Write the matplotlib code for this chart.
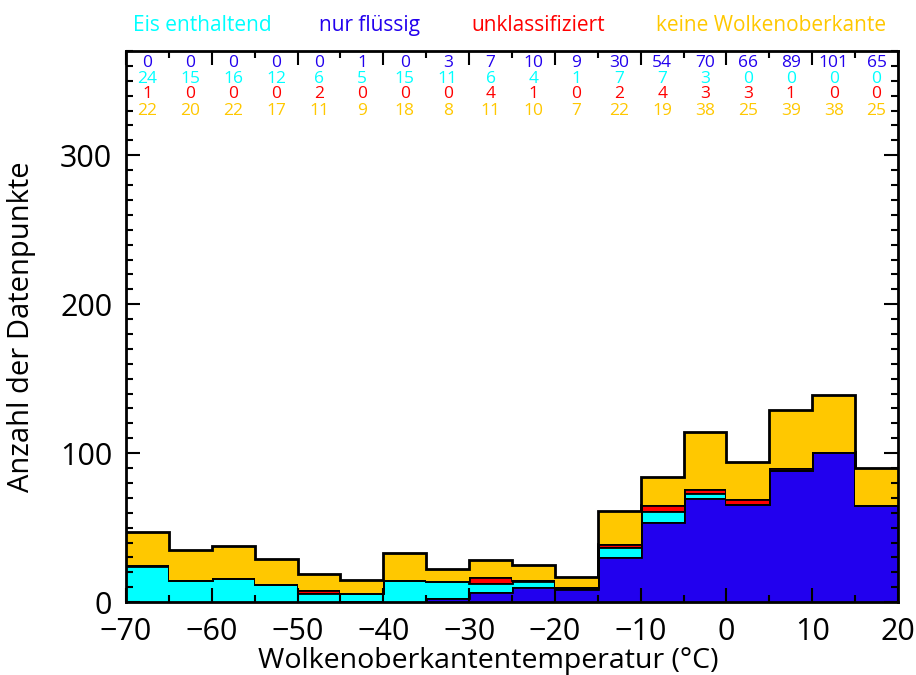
import numpy as np
import matplotlib.pyplot as plt
from matplotlib.ticker import MultipleLocator

plt.rcParams['font.family'] = ['Open Sans', 'DejaVu Sans']

# Temperaturklassen (°C), 5-Grad-Bins
edges = np.arange(-70, 25, 5)

# Anzahl pro Klasse
nur_fluessig = [0, 0, 0, 0, 0, 1, 0, 3, 7, 10, 9, 30, 54, 70, 66, 89, 101, 65]
eis = [24, 15, 16, 12, 6, 5, 15, 11, 6, 4, 1, 7, 7, 3, 0, 0, 0, 0]
unklassifiziert = [1, 0, 0, 0, 2, 0, 0, 0, 4, 1, 0, 2, 4, 3, 3, 1, 0, 0]
keine_wob = [22, 20, 22, 17, 11, 9, 18, 8, 11, 10, 7, 22, 19, 38, 25, 39, 38, 25]

serien = [nur_fluessig, eis, unklassifiziert, keine_wob]
farben = ['#2200ee', '#00ffff', '#ff0000', '#ffc800']
namen = ['nur flüssig', 'Eis enthaltend', 'unklassifiziert', 'keine Wolkenoberkante']

fig = plt.figure(figsize=(9.16, 6.75), dpi=100)
ax = fig.add_axes([0.1376, 0.108, 0.8428, 0.8164])

unten = np.zeros(len(edges) - 1)
for werte, farbe in zip(serien, farben):
    oben = unten + np.array(werte)
    ax.stairs(oben, edges, baseline=unten, fill=True, color=farbe, lw=0)
    ax.stairs(oben, edges, baseline=None, color='black', lw=2)
    unten = oben

# Zahlen oben im Diagramm
mitten = (edges[:-1] + edges[1:]) / 2
zeilen_y = [362, 351.5, 341, 330]
for werte, farbe, y in zip(serien, farben, zeilen_y):
    for x, v in zip(mitten, werte):
        ax.text(x, y, str(v), color=farbe, ha='center', va='center', fontsize=12.5)

# Legende als Text über dem Diagramm
leg_x = [0.221, 0.403, 0.587, 0.842]
leg_reihenfolge = [1, 0, 2, 3]
for lx, i in zip(leg_x, leg_reihenfolge):
    fig.text(lx, 0.962, namen[i], color=farben[i], ha='center', va='center', fontsize=15)

ax.set_xlim(-70, 20)
ax.set_ylim(0, 370)
ax.xaxis.set_major_locator(MultipleLocator(10))
ax.xaxis.set_minor_locator(MultipleLocator(5))
ax.yaxis.set_major_locator(MultipleLocator(100))
ax.yaxis.set_minor_locator(MultipleLocator(10))
ax.tick_params(which='both', direction='in', top=True, right=True, width=1.5, labelsize=22)
ax.tick_params(which='major', length=10)
ax.tick_params(which='minor', length=5)
ax.tick_params(axis='x', pad=11)
ax.tick_params(axis='y', pad=10)
for s in ax.spines.values():
    s.set_linewidth(2)

ax.set_xlabel('Wolkenoberkantentemperatur (°C)', fontsize=20.5)
ax.xaxis.set_label_coords(0.469, -0.082)
ax.set_ylabel('Anzahl der Datenpunkte', fontsize=21)
ax.yaxis.set_label_coords(-0.117, 0.5)

fig.savefig('out.png', dpi=100)
